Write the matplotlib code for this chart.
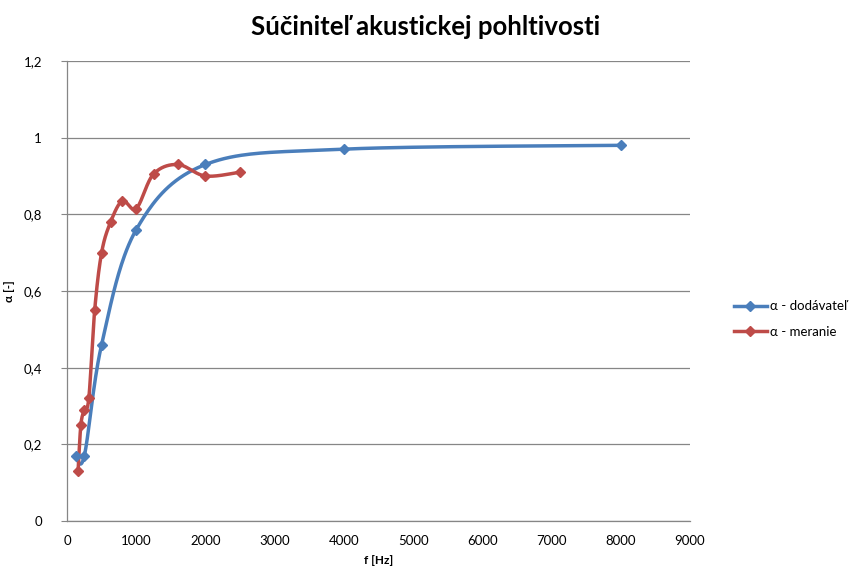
import numpy as np
import matplotlib
matplotlib.use("Agg")
import matplotlib.pyplot as plt
from matplotlib.lines import Line2D

plt.rcParams["font.family"] = ["Lato", "DejaVu Sans"]

# data
f_dod = [125, 250, 500, 1000, 2000, 4000, 8000]
a_dod = [0.17, 0.17, 0.46, 0.76, 0.93, 0.97, 0.98]
f_mer = [160, 200, 250, 315, 400, 500, 630, 800, 1000, 1250, 1600, 2000, 2500]
a_mer = [0.13, 0.25, 0.29, 0.32, 0.55, 0.70, 0.78, 0.835, 0.815, 0.905, 0.93, 0.90, 0.91]
x_ticks = list(range(0, 10000, 1000))
y_ticks = [0, 0.2, 0.4, 0.6, 0.8, 1.0, 1.2]
y_labels = ["0", "0,2", "0,4", "0,6", "0,8", "1", "1,2"]

BLUE = "#4A7EBB"
RED = "#BE4B48"
XMAX, YMAX = 9000, 1.2


def excel_smooth(x, y, w, h, n=40):
    # Excel-style smoothed line: cubic bezier, control points from neighbours / 6,
    # computed in pixel space so the curve shape matches the chart aspect
    p = np.column_stack([np.asarray(x) / XMAX * w, np.asarray(y) / YMAX * h])
    m = len(p)
    out = []
    t = np.linspace(0, 1, n)[:, None]
    for i in range(m - 1):
        p0 = p[i - 1] if i > 0 else p[i]
        p1, p2 = p[i], p[i + 1]
        p3 = p[i + 2] if i + 2 < m else p[i + 1]
        c1 = p1 + (p2 - p0) / 6
        c2 = p2 - (p3 - p1) / 6
        seg = (1 - t) ** 3 * p1 + 3 * (1 - t) ** 2 * t * c1 + 3 * (1 - t) * t ** 2 * c2 + t ** 3 * p2
        out.append(seg if i == 0 else seg[1:])
    out = np.vstack(out)
    return out[:, 0] / w * XMAX, out[:, 1] / h * YMAX


fig = plt.figure(figsize=(8.52, 5.72), dpi=100)
ax = fig.add_axes([67 / 852, 1 - 521 / 572, 623 / 852, 460 / 572])
W, H = 623, 460

for f, a, c in [(f_dod, a_dod, BLUE), (f_mer, a_mer, RED)]:
    sx, sy = excel_smooth(f, a, W, H)
    ax.plot(sx, sy, color=c, lw=2.5, solid_capstyle="round", zorder=3)
    ax.plot(f, a, "D", color=c, ms=5.5, zorder=4)

ax.set_xlim(0, XMAX)
ax.set_ylim(0, YMAX)
ax.set_xticks(x_ticks)
ax.set_yticks(y_ticks)
ax.set_yticklabels(y_labels)
ax.tick_params(axis="x", length=0, pad=10, labelsize=9.5)
ax.tick_params(axis="y", length=4, color="#868686", pad=14, labelsize=9.5)
ax.grid(axis="y", color="#868686", lw=0.9)
ax.set_axisbelow(True)
for s in ("top", "right"):
    ax.spines[s].set_visible(False)
for s in ("left", "bottom"):
    ax.spines[s].set_color("#868686")
    ax.spines[s].set_linewidth(0.9)

ax.set_xlabel("f [Hz]", fontsize=8.5, fontweight="bold", labelpad=6)
ax.set_ylabel("α [-]", fontsize=8.5, fontweight="bold", labelpad=6)
fig.text(426 / 852, 1 - 27 / 572, "Súčiniteľ akustickej pohltivosti",
         ha="center", va="center", fontsize=18.5, fontweight="bold")

handles = [Line2D([], [], color=BLUE, lw=2.5, marker="D", ms=5.5),
           Line2D([], [], color=RED, lw=2.5, marker="D", ms=5.5)]
fig.legend(handles, ["α - dodávateľ", "α - meranie"], loc="center left",
           bbox_to_anchor=(722 / 852, 1 - 319 / 572), frameon=False,
           fontsize=9.5, handlelength=2.5, labelspacing=1.0, handletextpad=0.2)

fig.savefig("out.png", dpi=100)
